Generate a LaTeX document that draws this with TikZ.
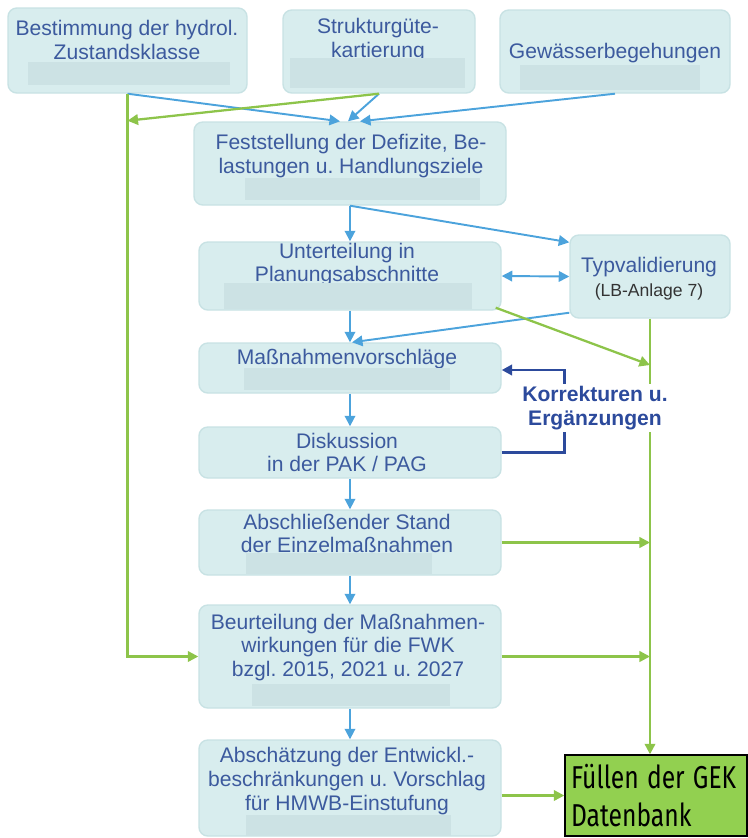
\documentclass[tikz,border=0pt]{standalone}
\usepackage{fontspec}
\setmainfont{Liberation Sans}
\newfontfamily\gekfont{Fira Sans}
\usepackage{tikz}
\usetikzlibrary{arrows.meta}
\usetikzlibrary{positioning}
\frenchspacing

\definecolor{boxfill}{RGB}{216,237,238}
\definecolor{boxrim}{RGB}{200,226,228}
\definecolor{barfill}{RGB}{204,226,228}
\definecolor{txtblue}{RGB}{60,90,158}
\definecolor{pfeilblau}{RGB}{76,163,220}
\definecolor{pfeilgruen}{RGB}{141,196,74}
\definecolor{korrblau}{RGB}{44,74,156}
\definecolor{gekgruen}{RGB}{146,208,80}

\newcommand{\schmal}[1]{\scalebox{0.78}[1]{#1}}

\tikzset{
	box/.style={draw=boxrim, fill=boxfill, rounded corners=5pt, line width=0.8pt},
	txt/.style={text=txtblue, align=center, inner sep=0pt, font=\fontsize{12}{13.5}\selectfont},
	bar/.style={fill=barfill},
	blau/.style={draw=pfeilblau, line width=1.1pt, ->},
	gruen/.style={draw=pfeilgruen, line width=1.3pt, ->},
	korr/.style={draw=korrblau, line width=1.5pt, ->},
}

\begin{document}
\begin{tikzpicture}[>={Triangle[length=6pt,width=6pt]}]
	\useasboundingbox (0,0) rectangle (14.94,-16.76);
	
	% boxes
	\node[box, minimum width=4.78cm, minimum height=1.7cm] (hydro) at (2.55,-1.01) {};
	\node[box, minimum width=3.84cm, minimum height=1.66cm] (struktur) at (7.58,-1.03) {};
	\node[box, minimum width=4.6cm, minimum height=1.66cm] (gewaesser) at (12.3,-1.03) {};
	\node[box, minimum width=6.24cm, minimum height=1.66cm] (feststellung) at (7.0,-3.27) {};
	\node[box, minimum width=6.04cm, minimum height=1.36cm] (unterteilung) at (7.0,-5.52) {};
	\node[box, minimum width=3.2cm, minimum height=1.66cm] (typ) at (13.0,-5.53) {};
	\node[box, minimum width=6.04cm, minimum height=1.0cm] (massnahmen) at (7.0,-7.36) {};
	\node[box, minimum width=6.04cm, minimum height=1.02cm] (diskussion) at (7.0,-9.05) {};
	\node[box, minimum width=6.04cm, minimum height=1.3cm] (abschluss) at (7.0,-10.85) {};
	\node[box, minimum width=6.04cm, minimum height=2.06cm] (beurteilung) at (7.0,-13.13) {};
	\node[box, minimum width=6.04cm, minimum height=1.92cm] (abschaetzung) at (7.0,-15.76) {};
	
	% texts
	\node[txt] (hydro-txt) at (2.54,-0.8) {Bestimmung der hydrol.\\Zustandsklasse};
	\node[txt] (struktur-txt) at (7.56,-0.8) {Strukturgüte-\\kartierung};
	\node[txt] (gewaesser-txt) at (12.3,-1.06) {Gewässerbegehungen};
	\node[txt] (feststellung-txt) at (7.02,-3.12) {Feststellung der Defizite, Be-\\lastungen u. Handlungsziele};
	\node[txt] (unterteilung-txt) at (6.94,-5.29) {Unterteilung in\\Planungsabschnitte};
	\node[txt] (typ-txt) at (12.98,-5.57) {Typvalidierung\\{\fontsize{10}{12}\selectfont\color{black!80}(LB-Anlage 7)}};
	\node[txt] (massnahmen-txt) at (6.94,-7.18) {Maßnahmenvorschläge};
	\node[txt] (diskussion-txt) at (6.94,-9.05) {Diskussion\\in der PAK / PAG};
	\node[txt] (abschluss-txt) at (6.94,-10.67) {Abschließender Stand\\der Einzelmaßnahmen};
	\node[txt] (beurteilung-txt) at (6.96,-12.95) {Beurteilung der Maßnahmen-\\wirkungen für die FWK\\bzgl. 2015, 2021 u. 2027};
	\node[txt] (abschaetzung-txt) at (6.94,-15.62) {Abschätzung der Entwickl.-\\beschränkungen u. Vorschlag\\für HMWB-Einstufung};
	
	% grey bars
	\fill[bar] (0.56,-1.24) rectangle (4.6,-1.70);
	\fill[bar] (5.8,-1.16) rectangle (9.3,-1.76);
	\fill[bar] (10.4,-1.3) rectangle (14.0,-1.8);
	\fill[bar] (4.9,-3.56) rectangle (9.6,-4.0);
	\fill[bar] (4.48,-5.66) rectangle (9.44,-6.18);
	\fill[bar] (4.88,-7.36) rectangle (9.0,-7.8);
	\fill[bar] (4.92,-11.06) rectangle (8.64,-11.48);
	\fill[bar] (5.04,-13.68) rectangle (9.0,-14.12);
	\fill[bar] (4.92,-16.3) rectangle (9.02,-16.72);
	
	\node[draw=black, fill=gekgruen, line width=0.8pt, minimum width=3.64cm, minimum height=1.62cm,
		inner xsep=0.12cm, text width=3.4cm, align=left, font=\gekfont\fontsize{18}{21.5}\selectfont]
		(gek) at (13.12,-15.91) {\schmal{Füllen der GEK}\\\schmal{Datenbank}};
	
	% arrows
	\coordinate (knick) at (13.0,-7.3);
	\draw[blau] (hydro.south) -- ([xshift=-0.2cm]feststellung.north);
	\draw[blau] (struktur.south) -- ([xshift=-0.04cm]feststellung.north);
	\draw[blau] (gewaesser.south) -- ([xshift=0.2cm]feststellung.north);
	\draw[gruen] (struktur.south) -- ([yshift=-0.54cm]hydro.south);
	\draw[gruen] (hydro.south) |- (beurteilung.west);
	
	\draw[blau] (feststellung.south) -- (unterteilung.north);
	\draw[blau] (feststellung.south) -- ([yshift=-0.16cm]typ.north west);
	\draw[blau, <->] (unterteilung.east) -- (typ.west);
	\draw[blau] (unterteilung.south) -- (massnahmen.north);
	\draw[blau] ([yshift=0.12cm]typ.south west) -- ([xshift=0.04cm]massnahmen.north);
	\draw[gruen] ([xshift=-0.12cm,yshift=0.06cm]unterteilung.south east) -- (knick);
	\draw[gruen] (typ.south) -- (typ.south |- gek.north);
	
	\draw[blau] (massnahmen.south) -- (diskussion.north);
	\draw[korr] (diskussion.east) -- ++(1.26,0) |- ([yshift=-0.04cm]massnahmen.east);
	\draw[blau] (diskussion.south) -- (abschluss.north);
	\draw[gruen] (abschluss.east) -- (abschluss.east -| typ.south);
	\draw[blau] (abschluss.south) -- (beurteilung.north);
	\draw[gruen] (beurteilung.east) -- (beurteilung.east -| typ.south);
	\draw[blau] (beurteilung.south) -- (abschaetzung.north);
	\draw[gruen] (abschaetzung.east |- gek.west) -- (gek.west);
	
	\node[text=korrblau, align=center, fill=white, inner sep=1pt, font=\bfseries\fontsize{12}{13.6}\selectfont]
		(korr-txt) at (11.9,-8.16) {Korrekturen u.\\Ergänzungen};
\end{tikzpicture}
\end{document}
